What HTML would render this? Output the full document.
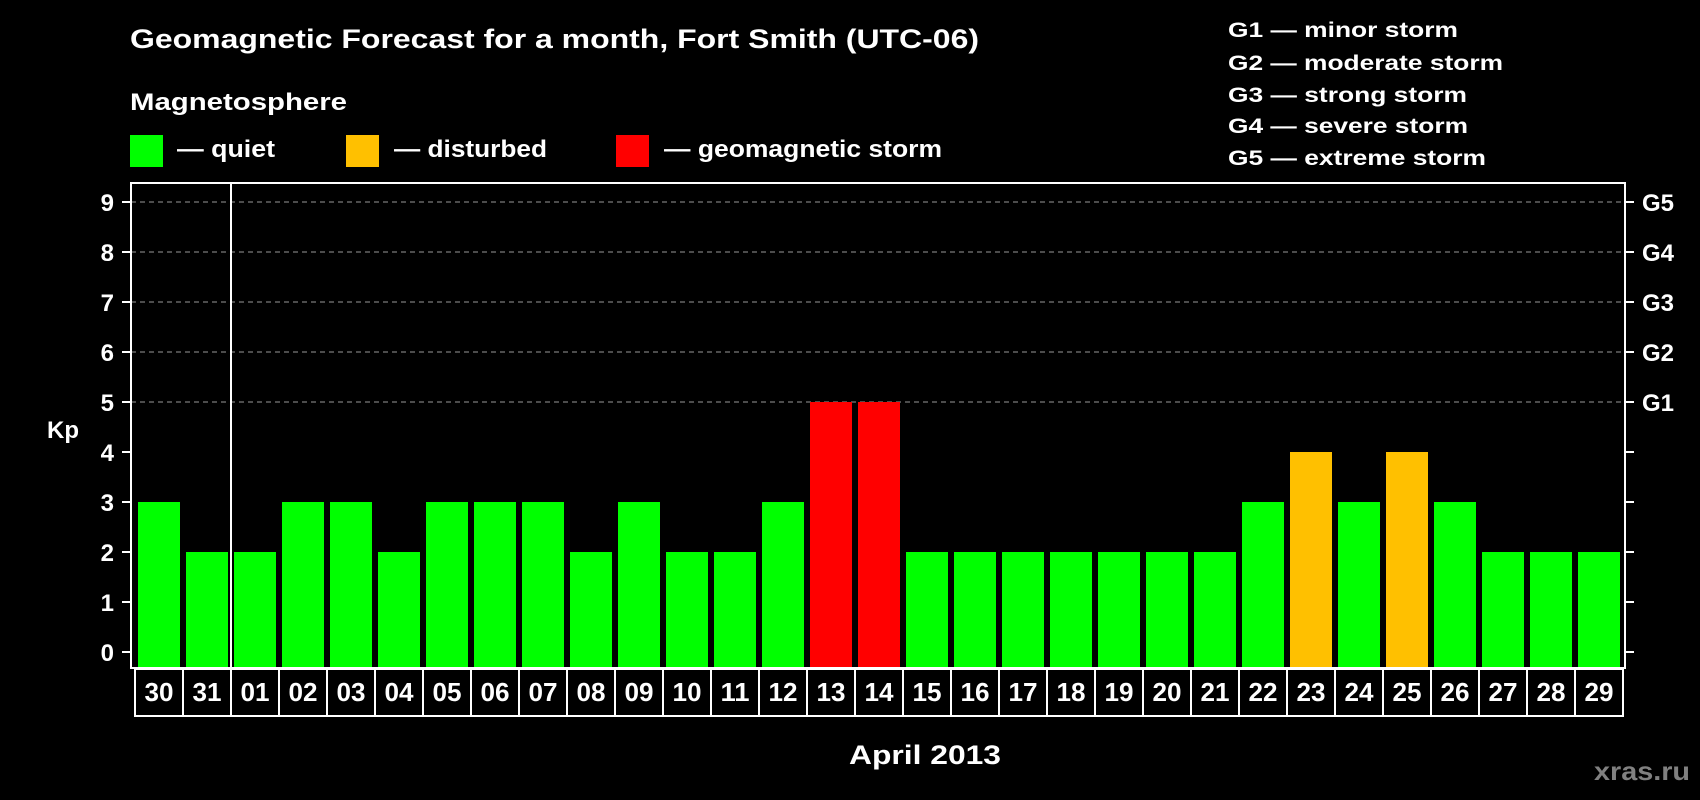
<!DOCTYPE html>
<html><head><meta charset="utf-8"><style>
html,body{margin:0;padding:0;background:#000;}
svg{display:block;font-family:"Liberation Sans",Arial,sans-serif;font-weight:bold;}
</style></head><body>
<svg id="chart" width="1700" height="800" viewBox="0 0 1700 800">
<rect width="1700" height="800" fill="#000"/>
<text x="130" y="48" font-size="27" fill="#fff" textLength="849" lengthAdjust="spacingAndGlyphs">Geomagnetic Forecast for a month, Fort Smith (UTC-06)</text>
<text x="130" y="110" font-size="24" fill="#fff" textLength="217" lengthAdjust="spacingAndGlyphs">Magnetosphere</text>
<g>
<rect x="130" y="135" width="33" height="32" fill="#00ff00"/>
<text x="177" y="157" font-size="24" fill="#fff" textLength="98" lengthAdjust="spacingAndGlyphs">— quiet</text></g>
<g>
<rect x="346" y="135" width="33" height="32" fill="#ffc000"/>
<text x="394" y="157" font-size="24" fill="#fff" textLength="153" lengthAdjust="spacingAndGlyphs">— disturbed</text></g>
<g>
<rect x="616" y="135" width="33" height="32" fill="#ff0000"/>
<text x="664" y="157" font-size="24" fill="#fff" textLength="278" lengthAdjust="spacingAndGlyphs">— geomagnetic storm</text></g>
<g font-size="21" fill="#fff">
<text x="1228" y="37" textLength="230" lengthAdjust="spacingAndGlyphs">G1 — minor storm</text>
<text x="1228" y="70" textLength="275" lengthAdjust="spacingAndGlyphs">G2 — moderate storm</text>
<text x="1228" y="102" textLength="239" lengthAdjust="spacingAndGlyphs">G3 — strong storm</text>
<text x="1228" y="133" textLength="240" lengthAdjust="spacingAndGlyphs">G4 — severe storm</text>
<text x="1228" y="165" textLength="258" lengthAdjust="spacingAndGlyphs">G5 — extreme storm</text>
</g>
<g id="plot"></g>
<text x="63" y="438" font-size="24" fill="#fff" text-anchor="middle">Kp</text>
<text x="925" y="764" font-size="27" fill="#fff" text-anchor="middle" textLength="152" lengthAdjust="spacingAndGlyphs">April 2013</text>
<text x="1690" y="780" font-size="26" fill="#808080" text-anchor="end" textLength="96" lengthAdjust="spacingAndGlyphs">xras.ru</text>
</svg>
<script>
const days = ["30","31","01","02","03","04","05","06","07","08","09","10","11","12","13","14","15","16","17","18","19","20","21","22","23","24","25","26","27","28","29"];
const kpValues = [3,2,2,3,3,2,3,3,3,2,3,2,2,3,5,5,2,2,2,2,2,2,2,3,4,3,4,3,2,2,2];
const yTicks = [0,1,2,3,4,5,6,7,8,9];
const gLabels = ["G1","G2","G3","G4","G5"];
const gLevels = [5,6,7,8,9];

const NS = "http://www.w3.org/2000/svg";
const plot = document.getElementById("plot");
const boxL = 131, boxR = 1625, boxT = 183, boxB = 668;
const cellX0 = 135, cellW = 48;
const y0 = 652, unit = 50;
function yScale(v){ return y0 - v*unit; }
function xScale(i){ return cellX0 + i*cellW; }
function mk(tag, attrs){ const e = document.createElementNS(NS, tag); for (const k in attrs) e.setAttribute(k, attrs[k]); plot.appendChild(e); return e; }
function color(v){ return v >= 5 ? "#ff0000" : (v >= 4 ? "#ffc000" : "#00ff00"); }

// gridlines for storm levels
gLevels.forEach((lv, i) => {
  const g = mk("line", {x1: boxL, x2: boxR, y1: yScale(lv), y2: yScale(lv), stroke: "#999", "stroke-width": 1, "stroke-dasharray": "5,4"});
  
  
  const t = mk("text", {x: 1642, y: yScale(lv) + 9, "font-size": 24, fill: "#fff"});
  t.textContent = gLabels[i];
  
  
});
// bars
kpValues.forEach((v, i) => {
  const r = mk("rect", {x: xScale(i) + 3, y: yScale(v), width: 42, height: boxB - yScale(v), fill: color(v)});
  
  
});
// y ticks
yTicks.forEach(v => {
  const l = mk("line", {x1: 122, x2: boxL, y1: yScale(v), y2: yScale(v), stroke: "#fff", "stroke-width": 2});
  
  
  const r = mk("line", {x1: boxR, x2: 1634, y1: yScale(v), y2: yScale(v), stroke: "#fff", "stroke-width": 2});
  
  
  const t = mk("text", {x: 114, y: yScale(v) + 9, "font-size": 24, fill: "#fff", "text-anchor": "end"});
  t.textContent = v;
  
  
});
// plot frame
const frame = mk("rect", {x: boxL, y: boxT, width: boxR - boxL, height: boxB - boxT, fill: "none", stroke: "#fff", "stroke-width": 2});


const sep = mk("line", {x1: xScale(2), x2: xScale(2), y1: boxT, y2: boxB, stroke: "#fff", "stroke-width": 2});


// day label cells
days.forEach((d, i) => {
  const c = mk("rect", {x: xScale(i), y: 669, width: cellW, height: 47, fill: "none", stroke: "#fff", "stroke-width": 2});
  
  
  const t = mk("text", {x: xScale(i) + cellW/2, y: 701, "font-size": 26, fill: "#fff", "text-anchor": "middle", textLength: 29, lengthAdjust: "spacingAndGlyphs"});
  t.textContent = d;
  
  
});
</script>
</body></html>
